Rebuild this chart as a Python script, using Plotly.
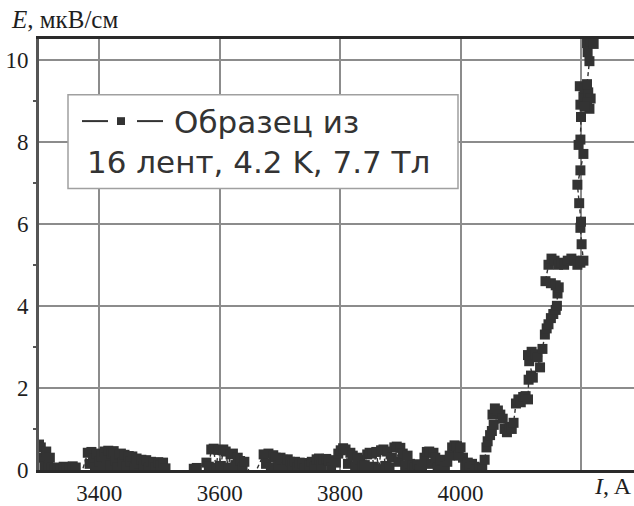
import plotly.graph_objects as go

# Current I (A) and electric field E (uV/cm), in measurement order
current_A = [
    3300, 3303, 3306, 3309, 3312, 3315, 3318, 3321,
    3326, 3331, 3336, 3341, 3346, 3351, 3356, 3361,
    3368,
    3381, 3384, 3387, 3390, 3393, 3396, 3400, 3403, 3406, 3409, 3412, 3415, 3418,
    3421, 3424, 3427, 3430, 3433, 3436, 3439, 3442, 3445, 3449, 3452, 3455, 3459,
    3462, 3466, 3470, 3474, 3478, 3482, 3486, 3490, 3494, 3498, 3502, 3506, 3510,
    3530, 3545,
    3557, 3562,
    3578, 3582, 3586, 3590, 3594, 3598, 3602, 3606, 3610, 3614, 3618, 3622, 3626,
    3630, 3634, 3638, 3641,
    3655,
    3673, 3677, 3681, 3685, 3689, 3693, 3697, 3701, 3705, 3709, 3713, 3717, 3721,
    3725, 3729, 3733, 3737, 3741, 3745, 3749, 3753, 3757, 3761, 3765, 3769, 3773,
    3777, 3781, 3785, 3789, 3793, 3797, 3801, 3805, 3809, 3813, 3817, 3821, 3825,
    3829, 3833, 3837, 3841, 3845, 3849, 3853, 3856, 3860, 3864, 3868, 3872, 3875,
    3878, 3882, 3886, 3890, 3894, 3897, 3900, 3904, 3908, 3912, 3916, 3920, 3924,
    3928, 3932, 3936, 3940, 3944, 3948, 3951, 3955, 3958, 3962, 3966, 3970, 3974,
    3978, 3982, 3986, 3990, 3994, 3997, 4000, 4004, 4008, 4012, 4015, 4019, 4023,
    4027, 4031,
    4036, 4040, 4043, 4045, 4049, 4052, 4055, 4053, 4057, 4062, 4066, 4070, 4073,
    4077, 4081, 4085, 4088, 4092, 4096, 4100, 4104, 4108, 4112, 4113, 4117, 4120,
    4114, 4112, 4118, 4124, 4128, 4132, 4136, 4140, 4143, 4146, 4150, 4154, 4158,
    4160, 4161, 4163, 4158, 4150, 4141, 4146, 4151, 4156, 4162, 4167, 4172, 4178,
    4184, 4189, 4194, 4199, 4204, 4201, 4199, 4200, 4197, 4194, 4199, 4204, 4196,
    4199, 4200, 4199, 4204, 4198, 4206, 4212, 4216, 4210, 4214, 4206, 4210, 4214,
    4211, 4210, 4216, 4221,
]
field_uV_cm = [
    0.62, 0.55, 0.30, 0.08, 0.45, 0.12, 0.30, 0.05,
    0.04, 0.06, 0.02, 0.08, 0.07, 0.03, 0.09, 0.06,
    -0.20,
    0.42, 0.15, 0.44, 0.28, 0.05, 0.40, 0.20, 0.33, 0.08, 0.45, 0.30, 0.47, 0.12,
    0.40, 0.46, 0.22, 0.05, 0.38, 0.40, 0.18, 0.37, 0.08, 0.34, 0.20, 0.33, 0.05,
    0.28, 0.15, 0.25, 0.10, 0.24, 0.05, 0.20, 0.18, 0.06, 0.19, 0.12, 0.18, 0.04,
    -0.25, -0.20,
    0.03, 0.05,
    0.18, 0.08, 0.50, 0.52, 0.05, 0.49, 0.10, 0.50, 0.45, 0.06, 0.38, 0.40, 0.12,
    0.30, 0.22, 0.05, 0.20,
    -0.20,
    0.38, 0.15, 0.40, 0.05, 0.36, 0.30, 0.12, 0.30, 0.25, 0.06, 0.26, 0.20, 0.10,
    0.20, 0.05, 0.18, 0.15, 0.04, 0.17, 0.12, 0.20, 0.08, 0.26, 0.28, 0.10, 0.25,
    0.27, 0.22, 0.05, 0.24, 0.18, 0.40, 0.48, 0.53, 0.50, 0.15, 0.42, 0.35, 0.08,
    0.30, 0.25, 0.10, 0.12, 0.38, 0.42, 0.40, 0.08, 0.44, 0.02, 0.48, 0.50, 0.10,
    0.45, 0.05, 0.30, 0.55, 0.57, 0.20, 0.54, 0.40, 0.12, 0.35, 0.15, 0.12, 0.05,
    0.14, 0.02, 0.10, 0.30, 0.44, 0.45, 0.15, 0.42, 0.30, 0.05, 0.22, 0.25, 0.08,
    0.20, 0.35, 0.55, 0.60, 0.58, 0.35, 0.55, 0.30, 0.12, 0.18, 0.05, 0.15, 0.08,
    0.02, 0.06,
    0.05, 0.25, 0.55, 0.70, 0.85, 0.95, 1.10, 1.35, 1.50, 1.45, 1.35, 1.25, 1.00,
    0.92, 1.05, 1.00, 1.15, 1.62, 1.72, 1.65, 1.78, 1.80, 1.72, 2.20, 2.30, 2.25,
    2.65, 2.80, 2.88, 2.82, 2.75, 2.50, 2.95, 3.30, 3.45, 3.55, 3.70, 3.80, 3.90,
    4.00, 4.30, 4.45, 4.50, 4.55, 4.60, 5.00, 5.15, 5.10, 5.00, 5.05, 5.00, 5.10,
    5.15, 5.10, 5.00, 5.05, 5.10, 5.50, 5.90, 6.05, 6.50, 6.95, 7.30, 7.70, 7.92,
    8.05, 8.60, 8.90, 9.10, 9.35, 9.30, 9.20, 9.05, 8.95, 8.80, 8.85, 9.40, 9.96,
    10.18, 10.40, 10.45, 10.38,
]

x_ticks = [3400, 3600, 3800, 4000, 4200]
x_tick_text = ["3400", "3600", "3800", "4000", ""]
y_ticks = [0, 2, 4, 6, 8, 10]

legend_line1 = "Образец из"
legend_line2 = "16 лент, 4.2 K, 7.7 Тл"

W, H = 634, 506
M_L, M_R, M_T, M_B = 39, 0, 39, 26
PW, PH = W - M_L - M_R, H - M_T - M_B


def px(x):
    return (x - M_L) / PW


def py(y):
    return (H - M_B - y) / PH


INK = "#333333"
GRID = "#8c8c8c"
SERIF = "Liberation Serif, Times New Roman, Times, serif"
SANS = "DejaVu Sans"

fig = go.Figure()
fig.add_trace(go.Scatter(
    x=current_A, y=field_uV_cm, mode="lines+markers",
    line=dict(color=INK, width=1.4, dash="4px,3px"),
    marker=dict(symbol="square", size=10, color=INK, line=dict(width=0)),
    showlegend=False,
))

fig.update_layout(
    width=W, height=H,
    margin=dict(l=M_L, r=M_R, t=M_T, b=M_B, pad=0),
    paper_bgcolor="white", plot_bgcolor="white",
    font=dict(family=SERIF, size=22, color="#1e1e1e"),
    xaxis=dict(
        range=[3300, 4288], tickvals=x_ticks, ticktext=x_tick_text,
        showgrid=True, gridcolor=GRID, gridwidth=2,
        showline=True, linecolor="#2a2a2a", linewidth=3, mirror=True,
        ticks="", zeroline=False,
        tickfont=dict(family=SERIF, size=23, color="#1e1e1e"),
    ),
    yaxis=dict(
        range=[0, 10.5], tickvals=y_ticks,
        showgrid=True, gridcolor=GRID, gridwidth=2,
        showline=True, linecolor="#555555", linewidth=3, mirror=False,
        ticks="", zeroline=False, ticklabelstandoff=3,
        tickfont=dict(family=SERIF, size=23, color="#1e1e1e"),
        minor=dict(tickvals=[1, 3, 5, 7, 9], ticks="outside", ticklen=3,
                   tickwidth=2, tickcolor="#555555", showgrid=False),
    ),
)

# axis titles
fig.add_annotation(
    xref="paper", yref="paper", x=px(9), y=py(19), xanchor="left", yanchor="middle",
    text="<i>E</i>, мкВ/см", showarrow=False,
    font=dict(family=SERIF, size=25, color="#1e1e1e"),
)
fig.add_annotation(
    xref="paper", yref="paper", x=px(634), y=py(496), xanchor="right", yanchor="middle",
    text="<i>I</i>, A", showarrow=False,
    font=dict(family=SERIF, size=24, color="#1e1e1e"),
)

# legend box with its sample symbol and caption
fig.add_shape(type="rect", xref="paper", yref="paper",
              x0=px(68), x1=px(458), y0=py(192), y1=py(96),
              fillcolor="white", line=dict(color="#a0a0a0", width=1.5), layer="above")
for x0, x1 in [(82, 108), (137, 163)]:
    fig.add_shape(type="line", xref="paper", yref="paper",
                  x0=px(x0), x1=px(x1), y0=py(123), y1=py(123),
                  line=dict(color=INK, width=2), layer="above")
fig.add_shape(type="rect", xref="paper", yref="paper",
              x0=px(117), x1=px(125), y0=py(127), y1=py(119),
              fillcolor=INK, line=dict(width=0), layer="above")
fig.add_annotation(
    xref="paper", yref="paper", x=px(172), y=py(124), xanchor="left", yanchor="middle",
    text=legend_line1, showarrow=False,
    font=dict(family=SANS, size=31, color="#333333"),
)
fig.add_annotation(
    xref="paper", yref="paper", x=px(85), y=py(165), xanchor="left", yanchor="middle",
    text=legend_line2, showarrow=False,
    font=dict(family=SANS, size=31, color="#333333"),
)

fig.write_html("out.html")
